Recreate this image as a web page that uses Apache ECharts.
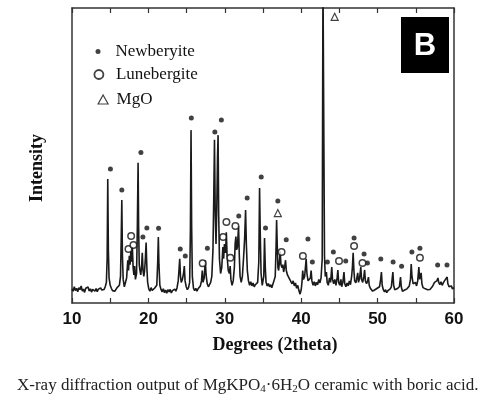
<!DOCTYPE html>
<html>
<head>
<meta charset="utf-8">
<script src="https://cdn.jsdelivr.net/npm/echarts@6/dist/echarts.min.js"></script>
<style>html,body{margin:0;padding:0;background:#fff;}#chart{width:481px;height:398px;}</style>
</head>
<body>
<div id="chart"></div>
<script>
// 2theta (degrees) vs intensity (arbitrary units)
const xrdPattern = [
[10.0,48],[10.15,40],[10.3,55],[10.45,42],[10.6,50],[10.75,38],[10.9,52],[11.05,45],[11.2,58],[11.35,40],
[11.5,47],[11.65,36],[11.8,50],[11.95,44],[12.1,54],[12.25,41],[12.4,48],[12.55,37],[12.7,46],[12.85,52],
[13.0,40],[13.15,49],[13.3,38],[13.45,47],[13.6,42],[13.75,51],[13.9,44],[14.05,50],[14.2,46],[14.35,55],
[14.5,70],[14.6,150],[14.68,420],[14.76,180],[14.85,85],[15.0,60],[15.15,50],[15.3,42],[15.45,48],[15.6,40],
[15.75,46],[15.9,52],[16.05,48],[16.2,60],[16.35,90],[16.45,230],[16.52,349],[16.6,160],[16.7,80],[16.85,55],
[17.0,60],[17.15,85],[17.3,145],[17.4,110],[17.5,160],[17.6,130],[17.7,175],[17.8,140],[17.9,190],[18.0,120],
[18.1,95],[18.2,125],[18.3,80],[18.45,100],[18.55,250],[18.65,475],[18.72,260],[18.8,130],[18.9,110],[19.0,95],
[19.1,120],[19.2,170],[19.3,110],[19.4,90],[19.5,110],[19.6,150],[19.7,205],[19.8,120],[19.9,70],[20.05,48],
[20.2,40],[20.35,52],[20.5,43],[20.65,38],[20.8,50],[20.95,44],[21.1,60],[21.22,140],[21.3,224],[21.38,130],
[21.5,60],[21.65,46],[21.8,38],[21.95,48],[22.1,35],[22.25,44],[22.4,33],[22.55,45],[22.7,38],[22.85,46],
[23.0,34],[23.15,42],[23.3,37],[23.45,47],[23.6,40],[23.75,52],[23.9,75],[24.0,110],[24.1,150],[24.2,90],
[24.3,70],[24.45,80],[24.6,100],[24.7,125],[24.8,75],[24.95,55],[25.1,45],[25.25,52],[25.4,70],[25.5,250],
[25.58,586],[25.66,260],[25.75,90],[25.9,50],[26.05,42],[26.2,50],[26.35,40],[26.5,48],[26.65,45],[26.8,58],
[26.95,75],[27.05,110],[27.15,70],[27.3,85],[27.45,145],[27.55,95],[27.7,65],[27.85,55],[28.0,60],[28.15,70],
[28.3,90],[28.45,180],[28.55,350],[28.65,553],[28.75,300],[28.85,200],[28.95,320],[29.05,500],[29.12,569],[29.2,300],
[29.3,150],[29.45,100],[29.6,120],[29.75,190],[29.85,150],[29.95,200],[30.1,170],[30.2,240],[30.3,160],[30.45,110],
[30.6,100],[30.7,125],[30.8,80],[30.95,60],[31.1,75],[31.25,120],[31.35,200],[31.45,225],[31.55,180],[31.65,190],
[31.8,260],[31.9,160],[32.0,90],[32.15,70],[32.3,90],[32.45,150],[32.6,220],[32.72,315],[32.82,200],[32.95,110],
[33.1,75],[33.25,60],[33.4,72],[33.55,58],[33.7,68],[33.85,55],[34.0,62],[34.15,58],[34.3,70],[34.45,140],
[34.55,390],[34.65,220],[34.75,100],[34.9,60],[35.0,55],[35.1,90],[35.2,220],[35.3,120],[35.4,70],[35.55,58],
[35.7,66],[35.85,55],[36.0,62],[36.15,52],[36.3,64],[36.45,58],[36.6,90],[36.7,180],[36.78,281],[36.86,200],
[36.95,120],[37.05,110],[37.15,140],[37.25,175],[37.35,130],[37.5,120],[37.6,130],[37.7,105],[37.85,125],[37.95,145],
[38.05,110],[38.2,95],[38.35,100],[38.5,80],[38.65,85],[38.8,65],[38.95,75],[39.1,58],[39.25,68],[39.4,50],
[39.55,60],[39.7,42],[39.85,30],[40.0,45],[40.1,70],[40.2,110],[40.3,80],[40.45,90],[40.55,120],[40.65,150],
[40.75,100],[40.9,75],[41.05,70],[41.2,85],[41.3,110],[41.4,75],[41.55,60],[41.7,72],[41.85,58],[42.0,70],
[42.15,62],[42.3,80],[42.45,68],[42.6,85],[42.75,150],[42.85,1100],[42.95,1100],[43.05,160],[43.15,90],[43.3,105],
[43.4,70],[43.55,60],[43.7,85],[43.85,70],[44.0,122],[44.1,80],[44.25,65],[44.4,80],[44.55,60],[44.7,85],
[44.8,112],[44.9,70],[45.05,60],[45.2,80],[45.3,55],[45.45,70],[45.6,105],[45.7,65],[45.85,55],[46.0,68],
[46.15,58],[46.3,75],[46.45,62],[46.6,90],[46.7,120],[46.8,170],[46.9,110],[47.0,75],[47.15,68],[47.25,80],
[47.4,102],[47.5,70],[47.65,85],[47.8,122],[47.9,80],[48.05,70],[48.2,90],[48.3,112],[48.4,75],[48.55,65],
[48.7,75],[48.8,88],[48.9,60],[49.05,50],[49.2,44],[49.35,40],[49.5,34],[49.65,45],[49.8,40],[49.95,50],
[50.1,45],[50.25,55],[50.4,80],[50.5,105],[50.6,60],[50.75,45],[50.9,38],[51.05,45],[51.2,35],[51.35,42],
[51.5,38],[51.65,48],[51.8,55],[51.9,80],[52.0,105],[52.1,60],[52.25,45],[52.4,40],[52.55,48],[52.7,42],
[52.85,55],[53.0,88],[53.1,55],[53.25,40],[53.4,36],[53.55,44],[53.7,40],[53.85,48],[54.0,45],[54.15,58],
[54.3,80],[54.4,132],[54.5,90],[54.65,65],[54.8,60],[54.95,70],[55.1,58],[55.25,75],[55.4,122],[55.5,80],
[55.6,90],[55.7,102],[55.8,65],[55.95,52],[56.1,58],[56.25,48],[56.4,52],[56.55,45],[56.7,40],[56.85,46],
[57.0,42],[57.15,55],[57.3,62],[57.45,70],[57.6,65],[57.75,75],[57.9,85],[58.0,70],[58.15,62],[58.3,72],
[58.45,60],[58.6,68],[58.75,75],[58.9,70],[59.0,80],[59.1,88],[59.2,65],[59.35,55],[59.5,50],[59.65,58],
[59.8,48],[60.0,52]
];

// phase markers [2theta, marker height]
const newberyite = [
[15.03,454],[16.52,383],[19.02,510],[19.28,224],[19.8,254],[21.33,253],[24.17,183],[24.83,159],[25.62,627],
[27.72,186],[28.7,580],[29.55,620],[31.83,295],[32.93,356],[34.77,427],[35.33,254],[36.94,346],[38.04,214],
[40.88,217],[41.46,139],[43.43,139],[44.21,173],[45.83,142],[46.92,220],[48.23,166],[48.67,136],[50.42,149],
[52.03,139],[53.14,125],[54.49,173],[55.54,186],[57.86,129],[59.08,129]
];
const lunebergite = [
[17.39,183],[17.74,227],[18.04,197],[27.1,135],[29.78,224],[30.21,275],[30.73,153],[31.39,261],[37.43,173],
[40.22,159],[44.95,142],[46.92,193],[48.02,136],[55.54,153]
];
const mgo = [[36.94,305],[44.38,970]];

const xTickLabels = [10, 20, 30, 40, 50, 60];

const chart = echarts.init(document.getElementById('chart'), null, {renderer: 'canvas'});
const frame = {color: '#333', width: 1.5};
const tick = {color: '#333', width: 1.2};
const serif = 'Liberation Serif';

const legendBase = {
  orient: 'vertical', selectedMode: false,
  textStyle: {fontFamily: serif, fontSize: 17, color: '#111'}
};

chart.setOption({
  animation: false,
  backgroundColor: '#fff',
  grid: {left: 72, right: 27, top: 8, bottom: 95},
  title: {
    left: 12, top: 371,
    text: 'X-ray diffraction output of MgKPO{sub|4}·6H{sub|2}O ceramic with boric acid.',
    textStyle: {
      fontFamily: serif, fontSize: 17, fontWeight: 'normal', color: '#222',
      rich: {sub: {fontFamily: serif, fontSize: 11, color: '#222', padding: [8, 0, 0, 0]}}
    }
  },
  legend: [
    Object.assign({}, legendBase, {left: 90.5, top: 38, itemWidth: 5, itemHeight: 5,
      data: [{name: 'Newberyite', icon: 'circle', itemStyle: {color: '#111', borderWidth: 0}}],
      textStyle: Object.assign({}, legendBase.textStyle, {padding: [0, 0, 0, 10]})}),
    Object.assign({}, legendBase, {left: 88.5, top: 61, itemWidth: 9, itemHeight: 9,
      data: [{name: 'Lunebergite', icon: 'circle', itemStyle: {color: '#fff', borderColor: '#111', borderWidth: 1.8}}],
      textStyle: Object.assign({}, legendBase.textStyle, {padding: [0, 0, 0, 7.5]})}),
    Object.assign({}, legendBase, {left: 92.5, top: 86, itemWidth: 10, itemHeight: 9,
      data: [{name: 'MgO', icon: 'triangle', itemStyle: {color: '#fff', borderColor: '#111', borderWidth: 1.2}}],
      textStyle: Object.assign({}, legendBase.textStyle, {padding: [0, 0, 0, 3.5]})})
  ],
  xAxis: [
    {
      type: 'value', min: 10, max: 60, interval: 10, position: 'bottom',
      axisLine: {show: true, onZero: false, lineStyle: frame},
      axisTick: {show: true, inside: true, length: 5, lineStyle: tick},
      minorTick: {show: true, splitNumber: 2, length: 5, lineStyle: tick},
      splitLine: {show: false},
      axisLabel: {
        fontFamily: 'Liberation Sans', fontWeight: 'bold', fontSize: 17, color: '#111', margin: 8,
        formatter: v => (xTickLabels.indexOf(v) >= 0 ? String(v) : '')
      },
      name: 'Degrees (2theta)', nameLocation: 'middle', nameGap: 33,
      nameTextStyle: {fontFamily: serif, fontWeight: 'bold', fontSize: 18, color: '#111', padding: [0, 0, 0, 24]}
    },
    {
      type: 'value', min: 10, max: 60, interval: 10, position: 'top',
      axisLine: {show: true, onZero: false, lineStyle: frame},
      axisTick: {show: true, inside: true, length: 5, lineStyle: tick},
      minorTick: {show: true, splitNumber: 2, length: 5, lineStyle: tick},
      splitLine: {show: false}, axisLabel: {show: false}
    }
  ],
  yAxis: [
    {
      type: 'value', min: 0, max: 1000, position: 'left',
      axisLine: {show: true, onZero: false, lineStyle: frame}, axisTick: {show: false},
      axisLabel: {show: false}, splitLine: {show: false},
      name: 'Intensity', nameLocation: 'middle', nameGap: 26,
      nameTextStyle: {fontFamily: serif, fontWeight: 'bold', fontSize: 18, color: '#111', padding: [0, 25, 0, 0]}
    },
    {
      type: 'value', min: 0, max: 1000, position: 'right',
      axisLine: {show: true, onZero: false, lineStyle: frame}, axisTick: {show: false},
      axisLabel: {show: false}, splitLine: {show: false}
    }
  ],
  series: [
    {
      name: 'XRD pattern', type: 'line', data: xrdPattern, showSymbol: false, symbol: 'none',
      clip: true, z: 2, lineStyle: {color: '#1a1a1a', width: 1.6}, silent: true
    },
    {
      name: 'Newberyite', type: 'scatter', data: newberyite, symbol: 'circle', symbolSize: 5, z: 3,
      itemStyle: {color: '#111'}
    },
    {
      name: 'Lunebergite', type: 'scatter', data: lunebergite, symbol: 'circle', symbolSize: 6.5, z: 3,
      itemStyle: {color: '#fff', borderColor: '#111', borderWidth: 1.5}
    },
    {
      name: 'MgO', type: 'scatter', data: mgo, symbol: 'triangle', symbolSize: 7, z: 3,
      itemStyle: {color: '#fff', borderColor: '#111', borderWidth: 1.2}
    }
  ],
  graphic: [
    {type: 'rect', shape: {x: 401, y: 17, width: 48, height: 56}, style: {fill: '#000'}, z: 10},
    {type: 'text', x: 425, y: 46, z: 11,
      style: {text: 'B', align: 'center', verticalAlign: 'middle', fill: '#fff',
        font: 'bold 31px "Liberation Sans"'}}
  ]
});
</script>
</body>
</html>
